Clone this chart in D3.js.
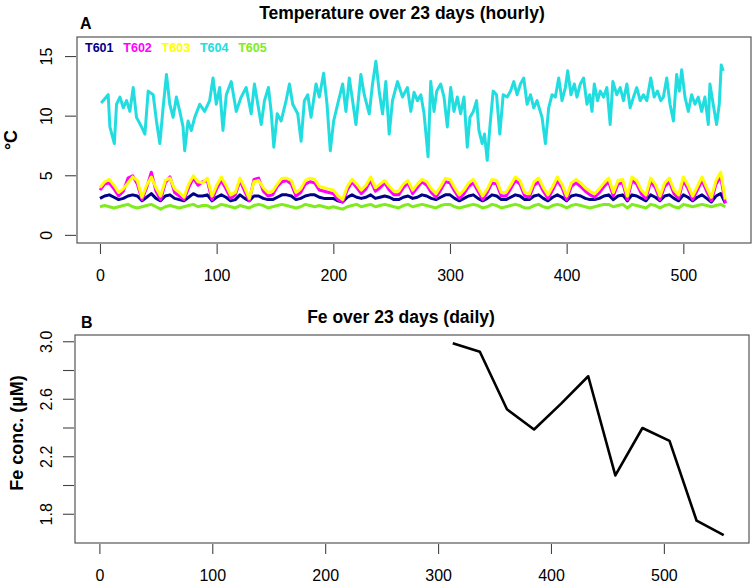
<!DOCTYPE html>
<html>
<head>
<meta charset="utf-8">
<script src="https://cdn.jsdelivr.net/npm/d3@7"></script>
<style>
  body { margin: 0; background: #fff; }
  svg { display: block; font-family: "Liberation Sans", Arial, sans-serif; }
</style>
</head>
<body>
<div id="chart"></div>
<script>
// ---- data ----
const seriesNames = ["T601", "T602", "T603", "T604", "T605"];
const seriesColors = ["#00008b", "#ff00ff", "#ffff00", "#22dde0", "#80ec20"];

// T601..T603, T605 read every 4 hours
const bandHours = d3.range(0, 537, 4);
const t601 = [3.1,3.3,3.4,3.2,3.0,3.1,3.3,3.4,3.3,2.9, 3.2,3.5,3.1,2.9,3.3,3.4,3.1,3.0,2.9,3.2,
  3.5,3.3,3.3,3.4,2.9,3.2,3.4,3.2,2.9,3.0, 3.4,3.1,2.9,3.3,3.3,3.1,3.0,3.0,3.2,3.4,
  3.4,3.3,3.0,3.1,3.3,3.4,3.4,3.2,3.1,3.1, 3.1,2.9,2.8,3.2,3.4,3.2,3.1,3.2,3.4,3.1,
  3.2,3.3,3.2,3.0,3.0,3.2,3.3,3.1,3.2,3.4, 3.3,3.1,3.0,3.2,3.4,3.4,3.1,2.9,3.1,3.3,
  3.4,3.1,2.9,3.1,3.4,3.3,3.0,3.0,3.2,3.4, 3.3,3.0,3.0,3.3,3.4,3.1,2.9,3.2,3.4,3.2,
  2.9,3.3,3.4,3.3,3.1,3.0,3.0,3.1,3.3,3.4, 3.0,3.3,3.4,2.9,3.4,3.3,3.1,2.9,3.4,3.2,
  2.9,3.3,3.4,3.1,2.9,3.4,3.2,2.9,3.2,3.4, 3.1,2.8,3.3,3.5,2.7];
const t602 = [3.8,4.3,4.4,3.9,3.3,3.7,4.8,5.0,4.3,3.0, 4.0,5.3,3.7,3.0,4.4,4.9,3.6,3.3,3.0,4.0,
  4.8,4.2,4.5,4.6,3.0,3.9,4.6,3.9,3.1,3.4, 4.6,3.7,2.9,4.7,4.8,3.7,3.3,3.4,4.1,4.5,
  4.6,4.3,3.3,3.6,4.3,4.5,4.4,3.8,3.7,3.6, 3.5,3.0,2.8,3.8,4.5,4.0,3.5,3.9,4.6,3.7,
  4.0,4.4,3.8,3.4,3.4,4.0,4.4,3.5,4.0,4.5, 4.2,3.6,3.2,3.8,4.5,4.4,3.7,3.1,3.5,4.1,
  4.4,3.7,3.0,3.6,4.4,4.3,3.3,3.3,3.9,4.6, 4.3,3.3,3.2,4.2,4.5,3.7,3.1,3.8,4.6,4.0,
  3.0,4.1,4.4,4.1,3.7,3.4,3.2,3.6,4.1,4.5, 3.3,4.3,4.4,3.0,4.6,4.3,3.5,3.1,4.5,4.0,
  3.0,4.1,4.5,3.5,3.1,4.6,3.9,3.0,3.8,4.6, 3.7,2.9,4.3,4.9,2.7];
const t603 = [4.0,4.5,4.7,4.2,3.6,3.9,4.4,4.9,4.6,3.2, 4.2,4.9,4.0,3.3,4.6,4.8,3.9,3.6,3.2,4.3,
  5.0,4.5,4.4,4.8,3.3,4.2,4.9,4.2,3.4,3.6, 4.8,4.0,3.1,4.5,4.6,4.0,3.6,3.7,4.3,4.8,
  4.8,4.6,3.6,3.9,4.6,4.8,4.7,4.1,4.0,3.9, 3.8,3.3,3.0,4.1,4.7,4.3,3.8,4.2,4.9,4.0,
  4.3,4.6,4.1,3.7,3.7,4.3,4.6,3.8,4.3,4.7, 4.5,3.9,3.5,4.1,4.8,4.7,4.0,3.4,3.8,4.4,
  4.7,4.0,3.3,3.9,4.7,4.6,3.6,3.6,4.2,4.9, 4.6,3.6,3.5,4.5,4.8,4.0,3.4,4.1,4.9,4.3,
  3.3,4.4,4.7,4.4,4.0,3.7,3.5,3.9,4.4,4.8, 3.6,4.6,4.7,3.3,4.9,4.6,3.8,3.4,4.8,4.3,
  3.3,4.4,4.8,3.8,3.4,4.9,4.2,3.3,4.1,4.9, 4.0,3.2,4.6,5.3,3.0];
const t605 = [2.4,2.5,2.4,2.3,2.4,2.5,2.6,2.4,2.3,2.4, 2.5,2.6,2.4,2.2,2.4,2.5,2.4,2.3,2.4,2.5,
  2.6,2.4,2.5,2.5,2.3,2.4,2.6,2.5,2.4,2.3, 2.5,2.4,2.3,2.5,2.6,2.5,2.3,2.4,2.5,2.6,
  2.5,2.4,2.3,2.4,2.6,2.5,2.4,2.5,2.4,2.3, 2.4,2.3,2.2,2.4,2.5,2.6,2.4,2.5,2.6,2.4,
  2.5,2.6,2.5,2.4,2.3,2.5,2.6,2.4,2.5,2.6, 2.5,2.4,2.3,2.5,2.6,2.6,2.4,2.3,2.4,2.5,
  2.6,2.5,2.3,2.4,2.6,2.5,2.3,2.4,2.5,2.6, 2.5,2.3,2.3,2.5,2.6,2.4,2.3,2.5,2.6,2.5,
  2.3,2.5,2.6,2.5,2.4,2.3,2.4,2.5,2.6,2.6, 2.4,2.5,2.6,2.3,2.6,2.5,2.4,2.3,2.6,2.5,
  2.3,2.5,2.6,2.4,2.3,2.6,2.5,2.4,2.5,2.6, 2.5,2.4,2.5,2.6,2.4];

// T604 read at its visible turning points
const t604Hours = [1,7,8.5,12.3,14.2,17.1,20,22.8,25.6,28.5, 31.3,35.6,38.5,41.3,45.6,48.4,51.3,54.1,57,59.8,
  62.7,65.5,68.4,71.2,72.6,75.5,78.3,81.2,85.5,89.7, 94,96.9,99.7,102.6,105.4,108.3,112.5,116.8,121,125.3,
  129.6,132.4,135.3,138.2,141,144.4,146.7,149,151.9,155.3, 159.5,162.4,165.2,169.5,172.4,175.2,178.1,180.9,185.2,188,
  191.7,194.6,197.4,200.3,203.7,208,210.8,213.7,216.5,219.4, 223.6,226.5,230.8,233.6,236.5,239.3,242.2,245,247.9,250.7,
  255,259.3,263.5,266.4,269.2,272.1,275,277.8,281.2,283.5, 286.3,288.6,292,294.9,297.7,300.6,303.4,306.3,309.1,312,
  314.8,317.1,320,322.8,324.8,327.6,329.6,331.9,334.2,337, 339.9,342.7,345.6,349,351.9,354.7,357.5,360.4,363.2,366.1,
  369,371.8,374.6,378.9,381.8,384.6,387.5,390.3,393.2,396, 398.9,400.9,403.7,406.6,408.8,411.7,414.5,417.4,419.7,421.7,
  423.7,426.5,428.8,431.6,434.5,437.3,439.6,443,445.9,448.7, 451.6,454.4,457.3,460.1,463,465.8,468.7,472.1,475,477.8,
  480.7,482.9,485.8,488.6,491.5,494.3,496.6,498.6,501.4,504.3, 507.1,510,512.8,515.7,518.5,521.4,522.8,525.6,528.5,530.8,
  532.5,534.2];
const t604 = [11.1,11.8,9.1,7.7,11.0,11.6,10.7,11.3,10.4,12.4, 9.9,9.1,8.5,12.1,11.8,9.6,7.7,10.7,13.5,11.0,
  9.9,11.6,10.4,9.1,7.1,9.6,8.8,9.9,11.0,10.4, 11.3,13.2,11.0,12.4,8.8,11.8,12.9,10.4,11.6,12.4,
  10.2,12.7,11.0,9.3,11.3,12.4,10.4,7.4,10.2,9.6, 11.3,12.7,11.0,10.2,7.9,11.3,11.8,9.9,12.7,11.6,
  13.6,11.0,7.1,9.6,11.0,12.7,10.4,13.2,11.3,9.3, 13.5,11.8,10.2,12.7,14.6,12.1,10.2,12.9,8.5,11.3,
  12.9,11.6,12.4,10.4,12.0,11.3,11.8,10.2,6.6,12.9, 10.4,12.1,12.7,11.6,9.1,12.4,10.4,11.6,10.2,11.6,
  7.4,9.9,10.4,11.3,8.8,7.7,8.5,6.3,9.1,12.1, 11.8,8.5,11.8,11.6,12.1,12.9,11.8,12.7,13.2,11.0,
  11.8,10.7,11.3,9.9,7.7,10.7,11.8,11.6,13.2,11.3, 12.4,13.8,11.8,12.7,11.6,12.7,13.2,11.0,11.8,10.4,
  12.7,11.3,12.1,11.6,12.4,9.3,12.9,11.8,12.4,11.3, 12.7,10.7,11.6,12.4,11.3,11.8,11.3,13.2,11.6,12.1,
  11.3,11.6,13.2,11.0,9.6,13.5,12.1,13.9,11.6,10.4, 11.8,11.0,11.6,10.4,11.6,9.3,12.7,11.0,9.3,11.0,
  14.3,13.8];

// Fe, daily
const feHours = [313, 337, 361, 385, 409, 433, 457, 481, 505, 529, 553];
const feConc = [2.99, 2.93, 2.53, 2.39, 2.57, 2.76, 2.07, 2.40, 2.31, 1.755, 1.655];

const tempTicksX = [0, 100, 200, 300, 400, 500];
const tempTicksY = [0, 5, 10, 15];
const feTicksY = [1.8, 2.0, 2.2, 2.4, 2.6, 2.8, 3.0];
const feLabelsY = [1.8, 2.2, 2.6, 3.0];

const width = 756, height = 585;
const boxA = { left: 77, right: 751, top: 37, bottom: 243 };
const boxB = { left: 75, right: 749, top: 335, bottom: 543 };

var svg = d3.select("#chart").append("svg")
    .attr("width", width)
    .attr("height", height);

// ---------- panel A ----------
var xA = d3.scaleLinear().domain([-19.7, 558]).range([boxA.left, boxA.right]);
var yA = d3.scaleLinear().domain([-0.64, 16.64]).range([boxA.bottom, boxA.top]);

var bandSeries = [
    { name: "T601", values: t601 },
    { name: "T602", values: t602 },
    { name: "T603", values: t603 }
];

var lineA = d3.line().x(d => xA(d[0])).y(d => yA(d[1]));

bandSeries.forEach(function (s) {
    svg.append("path")
        .datum(bandHours.map((h, i) => [h, s.values[i]]))
        .attr("fill", "none")
        .attr("stroke", seriesColors[seriesNames.indexOf(s.name)])
        .attr("stroke-width", 3)
        .attr("stroke-linejoin", "round")
        .attr("d", lineA);
});

svg.append("path")
    .datum(t604Hours.map((h, i) => [h, t604[i]]))
    .attr("fill", "none")
    .attr("stroke", seriesColors[3])
    .attr("stroke-width", 3)
    .attr("stroke-linejoin", "round")
    .attr("d", lineA);

svg.append("path")
    .datum(bandHours.map((h, i) => [h, t605[i]]))
    .attr("fill", "none")
    .attr("stroke", seriesColors[4])
    .attr("stroke-width", 3)
    .attr("stroke-linejoin", "round")
    .attr("d", lineA);

drawBox(boxA);

svg.append("g")
    .attr("transform", "translate(0," + (boxA.bottom + 1) + ")")
    .call(d3.axisBottom(xA).tickValues(tempTicksX).tickSize(10).tickPadding(16))
    .call(styleAxis);

drawYAxis(yA, tempTicksY, tempTicksY, boxA.left, d => d);

// legend inside the box
svg.selectAll("text.legend")
    .data(seriesNames)
    .join("text")
        .attr("class", "legend")
        .attr("x", (d, i) => 85 + i * 38.3)
        .attr("y", 52)
        .attr("font-size", "12.5px")
        .attr("font-weight", "bold")
        .attr("fill", (d, i) => seriesColors[i])
        .text(d => d);

svg.append("text")
    .attr("x", 402).attr("y", 19)
    .attr("text-anchor", "middle")
    .attr("font-size", "17.5px").attr("font-weight", "bold")
    .text("Temperature over 23 days (hourly)");

svg.append("text")
    .attr("x", 80).attr("y", 28.5)
    .attr("font-size", "16px").attr("font-weight", "bold")
    .text("A");

svg.append("text")
    .attr("transform", "translate(17,140) rotate(-90)")
    .attr("text-anchor", "middle")
    .attr("font-size", "18px").attr("font-weight", "bold")
    .text("°C");

// ---------- panel B ----------
var xB = d3.scaleLinear().domain([-21.6, 575.4]).range([boxB.left, boxB.right]);
var yB = d3.scaleLinear().domain([1.6, 3.047]).range([boxB.bottom, boxB.top]);

svg.append("path")
    .datum(feHours.map((h, i) => [h, feConc[i]]))
    .attr("fill", "none")
    .attr("stroke", "#000")
    .attr("stroke-width", 2.6)
    .attr("stroke-linejoin", "round")
    .attr("d", d3.line().x(d => xB(d[0])).y(d => yB(d[1])));

drawBox(boxB);

svg.append("g")
    .attr("transform", "translate(0," + (boxB.bottom + 1) + ")")
    .call(d3.axisBottom(xB).tickValues(tempTicksX).tickSize(10).tickPadding(16))
    .call(styleAxis);

drawYAxis(yB, feTicksY, feLabelsY, boxB.left, d => d.toFixed(1));

svg.append("text")
    .attr("x", 401).attr("y", 323)
    .attr("text-anchor", "middle")
    .attr("font-size", "17.5px").attr("font-weight", "bold")
    .text("Fe over 23 days (daily)");

svg.append("text")
    .attr("x", 81).attr("y", 327.5)
    .attr("font-size", "16px").attr("font-weight", "bold")
    .text("B");

svg.append("text")
    .attr("transform", "translate(23,433) rotate(-90)")
    .attr("text-anchor", "middle")
    .attr("font-size", "18px").attr("font-weight", "bold")
    .text("Fe conc. (µM)");

// ---------- helpers ----------
function drawBox(b) {
    svg.append("rect")
        .attr("x", b.left).attr("y", b.top)
        .attr("width", b.right - b.left).attr("height", b.bottom - b.top)
        .attr("fill", "none")
        .attr("stroke", "#555")
        .attr("stroke-width", 1.2);
}

function styleAxis(g) {
    g.select(".domain").remove();
    g.selectAll(".tick line").attr("stroke", "#444").attr("stroke-width", 1.1);
    g.selectAll(".tick text")
        .attr("fill", "#000")
        .attr("font-size", "16px")
        .attr("font-family", "Liberation Sans, Arial, sans-serif");
}

function drawYAxis(scale, ticks, labels, left, fmt) {
    svg.selectAll(null)
        .data(ticks)
        .join("line")
            .attr("x1", left - 12).attr("x2", left - 1)
            .attr("y1", d => scale(d)).attr("y2", d => scale(d))
            .attr("stroke", "#444").attr("stroke-width", 1.1);
    svg.selectAll(null)
        .data(labels)
        .join("text")
            .attr("transform", d => "translate(52," + scale(d) + ") rotate(-90)")
            .attr("text-anchor", "middle")
            .attr("font-size", "16px")
            .text(fmt);
}
</script>
</body>
</html>
